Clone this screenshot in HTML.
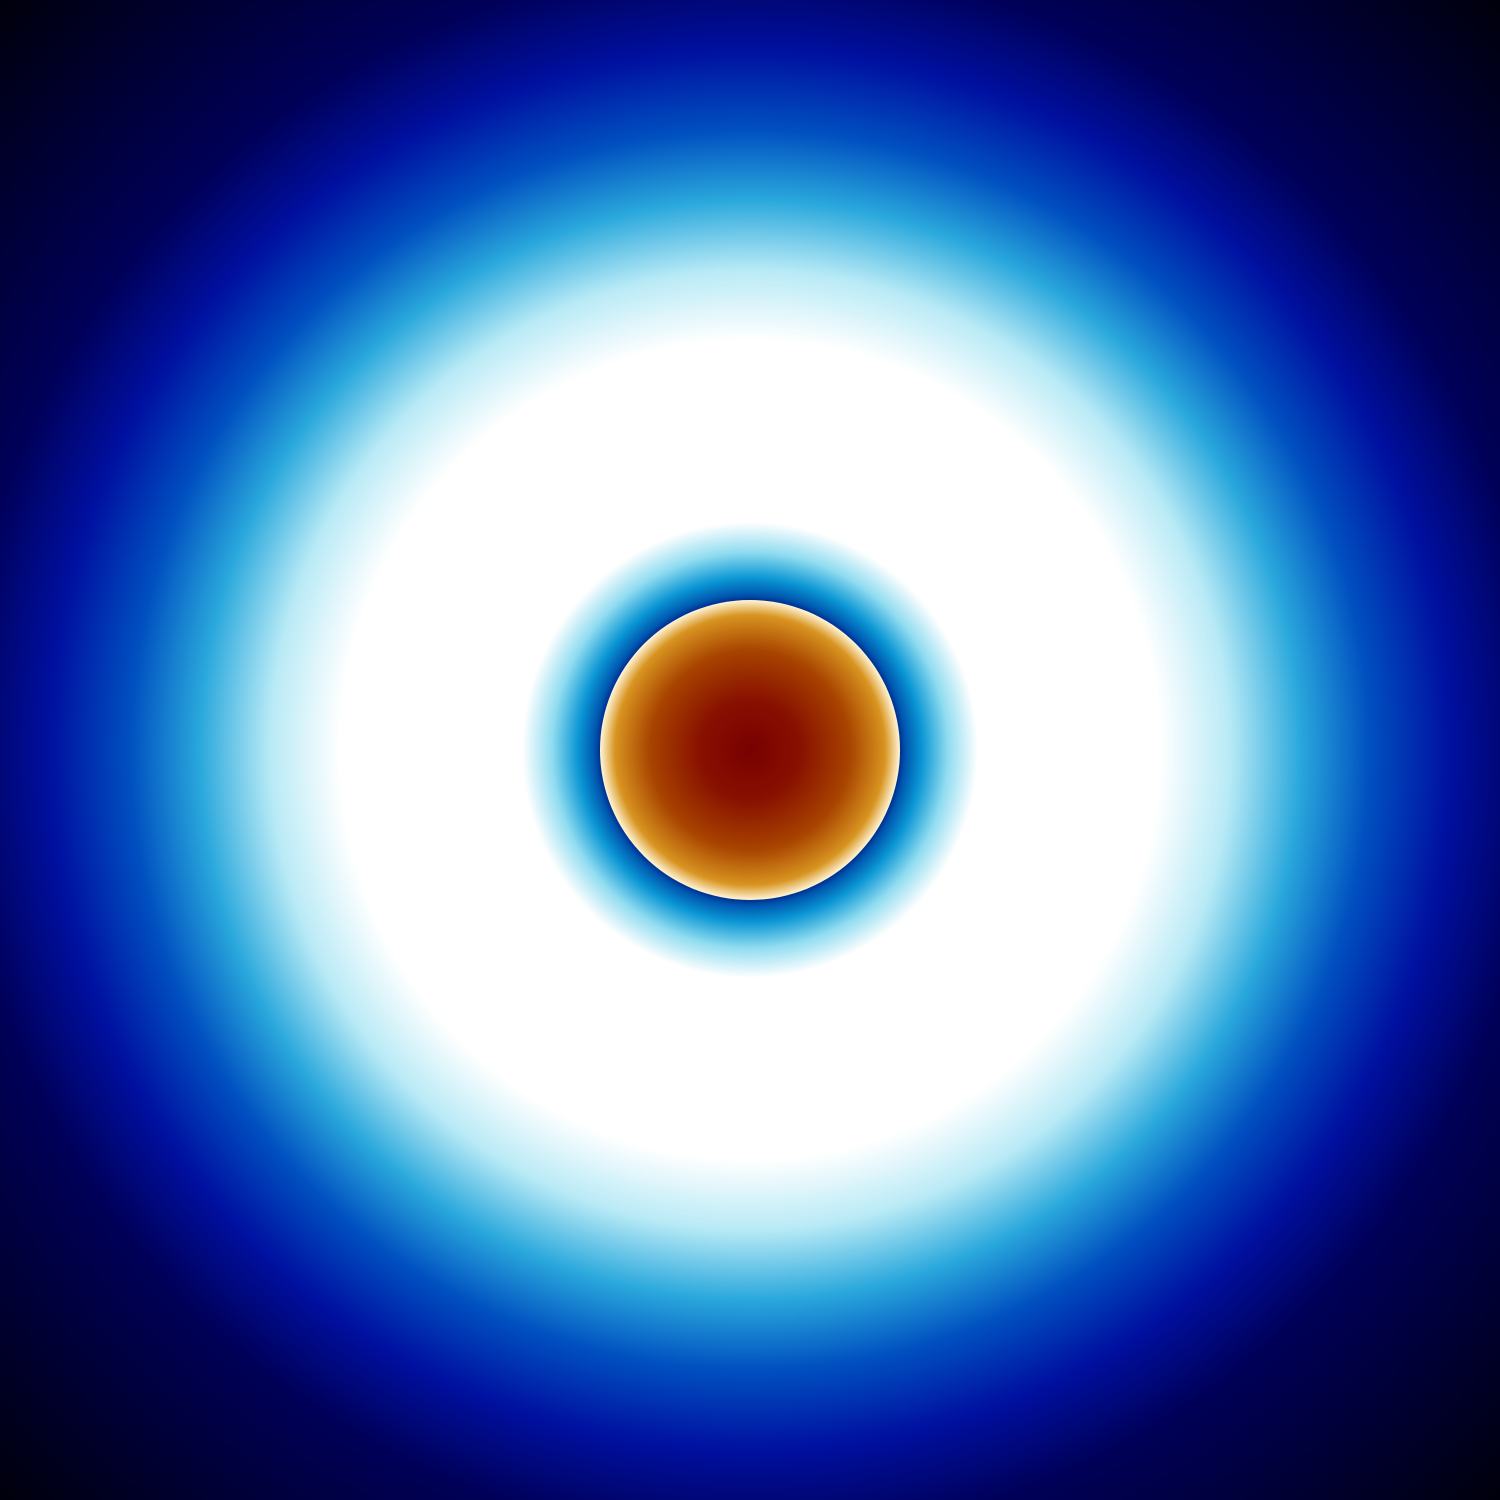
<!DOCTYPE html>
<html>
<head>
<meta charset="utf-8">
<style>
html,body{margin:0;padding:0;background:#000;width:1500px;height:1500px;overflow:hidden;}
svg{display:block;}
</style>
</head>
<body>
<svg id="chart" width="1500" height="1500" viewBox="0 0 1500 1500" xmlns="http://www.w3.org/2000/svg">
  <defs id="defs"></defs>
  <rect x="0" y="0" width="1500" height="1500" fill="#000010"></rect>
</svg>
<script>
// Radial profile of the halo (radius in data units, px from centre) and its colours
const haloRadii = [150, 156, 172, 198, 228, 410, 480, 550, 620, 700, 790, 1070];
const haloColors = ["#003090", "#0058b0", "#0a96d4", "#90dcf0", "#ffffff", "#ffffff", "#b8eaf6", "#2aa8dc", "#0050c0", "#0010a0", "#000058", "#000008"];
// Radial profile of the central disk
const diskRadii = [0, 50, 100, 135, 150];
const diskColors = ["#780000", "#881000", "#a84400", "#d89420", "#fff6d8"];
const centerX = 750, centerY = 750, diskRadius = 150, maxRadius = 1070;

const NS = "http://www.w3.org/2000/svg";
const svg = document.getElementById('chart');
const defs = document.getElementById('defs');
function rScale(r, max) { return (r / max * 100).toFixed(3) + '%'; }

function makeGrad(id, radii, colors, max) {
  const g = document.createElementNS(NS, 'radialGradient');
  g.setAttribute('id', id);
  g.setAttribute('gradientUnits', 'userSpaceOnUse');
  g.setAttribute('cx', centerX); g.setAttribute('cy', centerY); g.setAttribute('r', max);
  radii.forEach((r, i) => {
    const s = document.createElementNS(NS, 'stop');
    s.setAttribute('offset', rScale(r, max));
    s.setAttribute('stop-color', colors[i]);
    g.appendChild(s);
  });
  defs.appendChild(g);
}
makeGrad('haloGrad', haloRadii, haloColors, maxRadius);
makeGrad('diskGrad', diskRadii, diskColors, diskRadius);

const halo = document.createElementNS(NS, 'rect');


halo.setAttribute('x', 0); halo.setAttribute('y', 0);
halo.setAttribute('width', 1500); halo.setAttribute('height', 1500);
halo.setAttribute('fill', 'url(#haloGrad)');
svg.appendChild(halo);

const disk = document.createElementNS(NS, 'circle');


disk.setAttribute('cx', centerX); disk.setAttribute('cy', centerY);
disk.setAttribute('r', diskRadius);
disk.setAttribute('fill', 'url(#diskGrad)');
svg.appendChild(disk);
</script>
</body>
</html>
